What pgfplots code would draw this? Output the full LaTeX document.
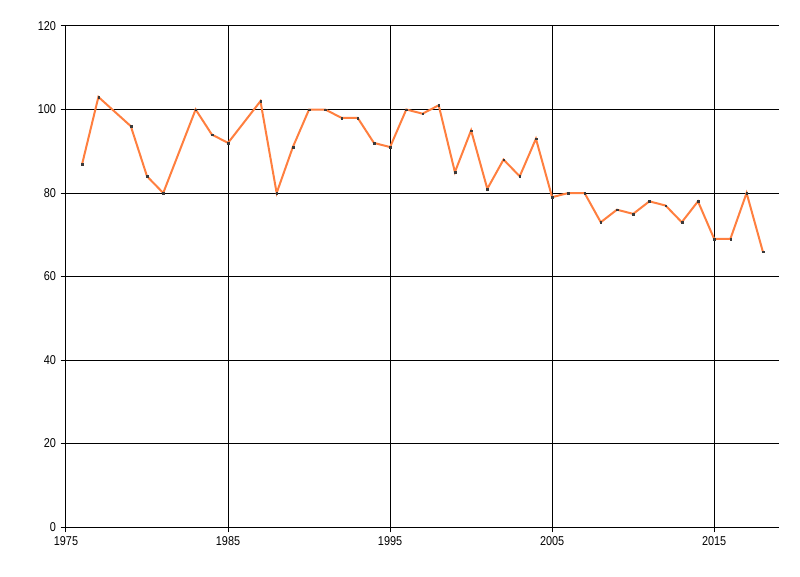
\documentclass[border=0pt]{standalone}
\usepackage{fontspec}
\setmainfont{Liberation Sans}[FakeStretch=0.85]
\usepackage{pgfplots}
\pgfplotsset{compat=1.18}
\definecolor{lineorange}{HTML}{FF7F3F}
\definecolor{markgray}{HTML}{3A3A3A}

\pgfplotstableread{
year value
1976 87
1977 103
1979 96
1980 84
1981 80
1983 100
1984 94
1985 92
1987 102
1988 80
1989 91
1990 100
1991 100
1992 98
1993 98
1994 92
1995 91
1996 100
1997 99
1998 101
1999 85
2000 95
2001 81
2002 88
2003 84
2004 93
2005 79
2006 80
2007 80
2008 73
2009 76
2010 75
2011 78
2012 77
2013 73
2014 78
2015 69
2016 69
2017 80
2018 66
}\datatable

\begin{document}
\begin{tikzpicture}
\path[use as bounding box] (-49.5pt,-36.75pt) rectangle (550.5pt,395.25pt);
\begin{axis}[
  at={(0,0)}, anchor=south west,
  scale only axis,
  width=534.75pt, height=375.75pt,
  xmin=1975, xmax=2019,
  ymin=0, ymax=120,
  xtick={1975,1985,1995,2005,2015},
  ytick={0,20,...,120},
  xticklabel style={/pgf/number format/1000 sep={}},
  /pgf/number format/assume math mode=true,
  ticklabel style={font=\fontsize{9.6}{10}\selectfont, text=black},
  axis lines*=left,
  axis line style={black, line width=0.75pt, -},
  grid=major,
  major grid style={black, line width=0.75pt},
  tick align=outside,
  major tick length=4pt,
  tick style={black, line width=0.75pt},
  xtick pos=bottom, ytick pos=left,
  clip=false,
  ]
\addplot[lineorange, line width=1.5pt, mark=square*, mark size=0.6pt,
  mark options={solid, draw=markgray, fill=markgray, line width=0.1pt}] table[x=year, y=value] {\datatable};
\end{axis}
\end{tikzpicture}
\end{document}
